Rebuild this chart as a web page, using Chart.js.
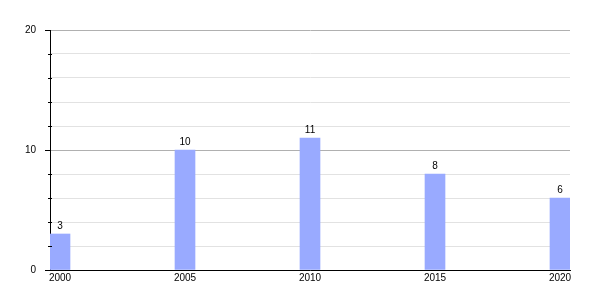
<!DOCTYPE html>
<html>
<head>
<meta charset="utf-8">
<script src="https://cdn.jsdelivr.net/npm/chart.js@4"></script>
<style>
  body { margin: 0; background: #fff; }
  #wrap { width: 600px; height: 300px; }
</style>
</head>
<body>
<div id="wrap"><canvas id="barChart"></canvas></div>
<script>
var years = [2000, 2005, 2010, 2015, 2020];
var counts = [3, 10, 11, 8, 6];
var yMax = 20;

var barColor = "rgb(153, 170, 255)";

function isMajor(v) {
    return v % 10 === 0;
}

// value labels over the bars + short minor ticks on the y axis
var extras = {
    id: 'extras',
    afterDatasetsDraw: function (chart) {
        var ctx = chart.ctx;
        var meta = chart.getDatasetMeta(0);
        ctx.save();
        ctx.font = "10px 'Liberation Sans', Arial, sans-serif";
        ctx.fillStyle = "#000";
        ctx.textAlign = "center";
        ctx.textBaseline = "bottom";
        meta.data.forEach(function (bar, i) {
            ctx.fillText(counts[i], bar.x, bar.y - 3);
        });

        var y = chart.scales.y;
        ctx.strokeStyle = "#000";
        ctx.lineWidth = 1;
        y.ticks.forEach(function (t, i) {
            if (isMajor(t.value)) return;
            var py = Math.round(y.getPixelForTick(i)) + 0.5;
            ctx.beginPath();
            ctx.moveTo(y.right - 2, py);
            ctx.lineTo(y.right + 2, py);
            ctx.stroke();
        });
        ctx.restore();
    }
};

var config = {
    type: 'bar',
    data: {
        datasets: [{
            data: years.map(function (yr, i) { return { x: yr, y: counts[i] }; }),
            backgroundColor: barColor,
            barThickness: 20
        }]
    },
    options: {
        responsive: true,
        maintainAspectRatio: false,
        animation: false,
        layout: { padding: { top: 30, right: 30, left: 0, bottom: 0 } },
        plugins: {
            legend: { display: false },
            tooltip: { enabled: false }
        },
        scales: {
            x: {
                type: 'linear',
                min: 1999.6,
                max: 2020.4,
                offset: false,
                afterFit: function (s) { s.height = 30; },
                grid: { display: false, drawTicks: false, offset: false },
                border: { display: true, color: "#000", width: 1 },
                ticks: {
                    stepSize: 5,
                    padding: 2,
                    color: "#000",
                    font: { size: 10, family: "'Liberation Sans', Arial, sans-serif" },
                    callback: function (v) {
                        return years.indexOf(v) >= 0 ? String(v) : '';
                    }
                },
                afterBuildTicks: function (s) {
                    s.ticks = years.map(function (yr) { return { value: yr }; });
                }
            },
            y: {
                min: 0,
                max: yMax,
                afterFit: function (s) { s.width = 50; },
                grid: {
                    color: function (c) { return isMajor(c.tick.value) ? "#b0b0b0" : "#e2e2e2"; },
                    tickColor: function (c) { return isMajor(c.tick.value) ? "#000" : "rgba(0,0,0,0)"; },
                    tickLength: 5
                },
                border: { display: true, color: "#000", width: 1 },
                ticks: {
                    stepSize: 2,
                    padding: 9,
                    color: "#000",
                    font: { size: 10, family: "'Liberation Sans', Arial, sans-serif" },
                    callback: function (v) { return isMajor(v) ? String(v) : ''; }
                }
            }
        }
    },
    plugins: [extras]
};

var barChart = new Chart(document.getElementById("barChart"), config);
</script>
</body>
</html>
